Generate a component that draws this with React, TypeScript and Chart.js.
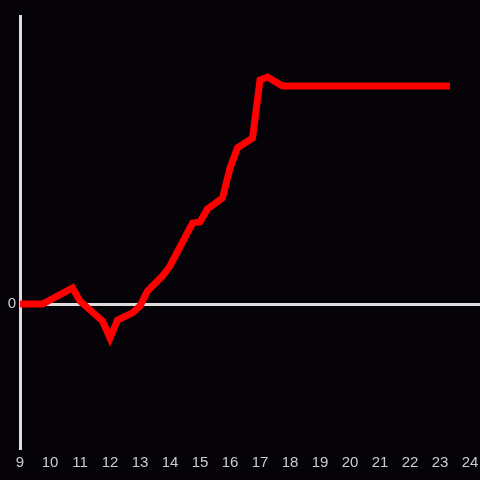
import React, { useEffect, useRef } from "react";
import { Chart, registerables } from "chart.js";

Chart.register(...registerables);

const hours = [9.0, 9.75, 10.75, 11.0, 11.75, 12.0, 12.25, 12.75, 13.0, 13.25, 13.75, 14.0, 14.75, 15.0, 15.25, 15.75, 16.0, 16.25, 16.75, 17.0, 17.25, 17.75, 23.33];
const values = [0, 0, 5.6, 1.0, -5.9, -11.8, -5.6, -3.1, -0.7, 4.5, 9.7, 13.2, 28.1, 28.5, 33.0, 36.8, 47.2, 54.2, 57.6, 77.8, 78.8, 75.7, 75.7];
const xTicks = [9, 10, 11, 12, 13, 14, 15, 16, 17, 18, 19, 20, 21, 22, 23, 24];
const yTicks = [0];

export default function App() {
  const ref = useRef<HTMLCanvasElement | null>(null);
  useEffect(() => {
    document.body.style.margin = "0";
    document.body.style.background = "#050307";
    const ctx = ref.current!;
    const chart = new Chart(ctx, {
      type: "line",
      data: {
        datasets: [
          {
            data: hours.map((h, i) => ({ x: h, y: values[i] })),
            borderColor: "#ff0000",
            borderWidth: 7,
            pointRadius: 0,
            tension: 0,
            fill: false,
          },
        ],
      },
      options: {
        animation: false,
        responsive: false,
        maintainAspectRatio: false,
        layout: { padding: { top: 16, right: 0, left: 0, bottom: 0 } },
        plugins: { legend: { display: false }, tooltip: { enabled: false } },
        scales: {
          x: {
            type: "linear",
            min: 9,
            max: 24.333,
            afterBuildTicks: (s: any) => {
              s.ticks = xTicks.map((v) => ({ value: v }));
            },
            afterFit: (s: any) => {
              s.height = 32;
              s.paddingLeft = 0;
              s.paddingRight = 0;
            },
            grid: { display: false, drawTicks: false },
            border: { display: false },
            ticks: {
              color: "#cccccc",
              padding: 6,
              maxRotation: 0,
              autoSkip: false,
              font: { family: "'Liberation Sans', Arial, sans-serif", size: 15 },
            },
          },
          y: {
            type: "linear",
            min: -50,
            max: 100,
            afterBuildTicks: (s: any) => {
              s.ticks = yTicks.map((v) => ({ value: v }));
            },
            afterFit: (s: any) => {
              s.width = 20;
              s.paddingTop = 0;
              s.paddingBottom = 0;
            },
            grid: {
              drawTicks: false,
              color: (c: any) => (c.tick && c.tick.value === 0 ? "#dddddd" : "rgba(0,0,0,0)"),
              lineWidth: 3,
            },
            border: { display: true, color: "#dddddd", width: 3 },
            ticks: {
              color: "#cccccc",
              padding: 4,
              font: { family: "'Liberation Sans', Arial, sans-serif", size: 15 },
            },
          },
        },
      },
      plugins: [
        {
          id: "bg",
          beforeDraw: (c: any) => {
            const g = c.ctx;
            g.save();
            g.fillStyle = "#050307";
            g.fillRect(0, 0, c.width, c.height);
            g.restore();
          },
        },
      ],
    });
    return () => chart.destroy();
  }, []);
  return (
    <div style={{ position: "fixed", left: 0, top: 0, width: 480, height: 480, background: "#050307" }}>
      <canvas ref={ref} width={480} height={480} style={{ width: 480, height: 480, display: "block" }} />
    </div>
  );
}
